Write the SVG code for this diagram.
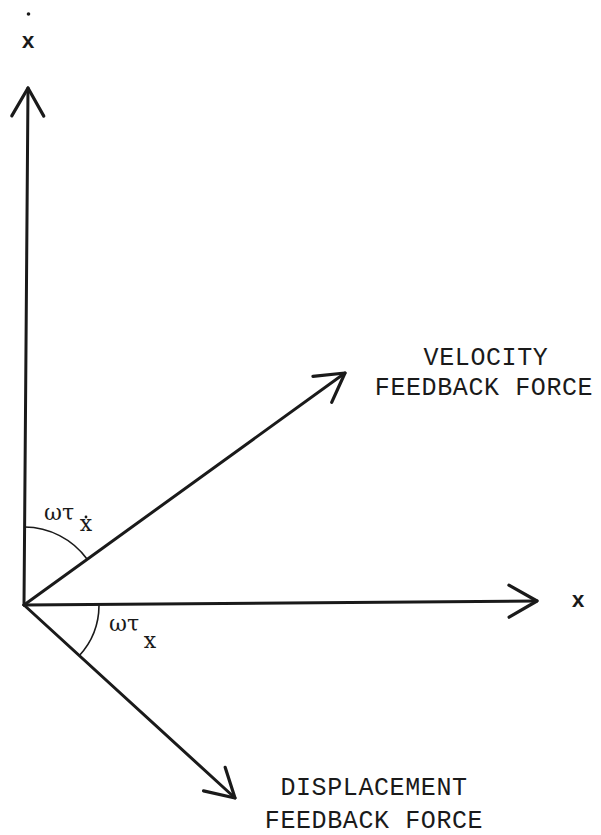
<svg xmlns="http://www.w3.org/2000/svg" width="601" height="835" viewBox="0 0 601 835">
<defs>
<marker id="open" markerUnits="userSpaceOnUse" markerWidth="40" markerHeight="40" viewBox="-32 -20 36 40" refX="0" refY="0" orient="auto" overflow="visible">
<path d="M-28,-16 L0,0 L-28,16" fill="none" stroke="#1a1a1a" stroke-width="3.2" stroke-linecap="round" stroke-linejoin="round"/>
</marker>
</defs>
<style>
.ax{fill:none;stroke:#1a1a1a;stroke-width:3;stroke-linecap:round}
.arc{fill:none;stroke:#1a1a1a;stroke-width:1.6}
.tt{font-family:"Liberation Mono","Courier New",monospace;font-size:25px;fill:#1a1a1a;letter-spacing:0.6px}
.gk{font-family:"DejaVu Serif","Liberation Serif",serif;font-size:22px;fill:#1a1a1a}
.sm{font-family:"Liberation Mono","Courier New",monospace;font-size:22px;fill:#1a1a1a;font-weight:bold}
</style>
<rect width="601" height="835" fill="#fff"/>
<g id="connectors">
<line class="ax" x1="24" y1="605" x2="28" y2="88" marker-end="url(#open)"/>
<line class="ax" x1="24" y1="605" x2="537" y2="601" marker-end="url(#open)"/>
<line class="ax" x1="24" y1="605" x2="345" y2="373" marker-end="url(#open)"/>
<line class="ax" x1="24" y1="605" x2="235" y2="798" marker-end="url(#open)"/>
<path class="arc" d="M24.6,527 A78,78 0 0 1 87,559"/>
<path class="arc" d="M99,605.5 A75,75 0 0 1 79,656"/>
</g>
<g id="xdot-label">
<circle cx="28.5" cy="14" r="1.8" fill="#1a1a1a"/>
<text class="sm" x="28" y="48" text-anchor="middle">x</text>
</g>
<g id="x-label">
<text class="sm" x="578" y="607" text-anchor="middle">x</text>
</g>
<g id="velocity-label">
<text class="tt" x="486" y="365" text-anchor="middle">VELOCITY</text>
<text class="tt" x="484" y="395" text-anchor="middle">FEEDBACK FORCE</text>
</g>
<g id="displacement-label">
<text class="tt" x="374" y="795" text-anchor="middle">DISPLACEMENT</text>
<text class="tt" x="374" y="828" text-anchor="middle">FEEDBACK FORCE</text>
</g>
<g id="angle-velocity">
<text class="gk" x="44" y="520">ωτ</text>
<circle cx="86" cy="517" r="1.4" fill="#1a1a1a"/>
<text class="gk" x="86" y="531" text-anchor="middle" font-size="17">x</text>
</g>
<g id="angle-displacement">
<text class="gk" x="109" y="631">ωτ</text>
<text class="gk" x="150" y="648" text-anchor="middle" font-size="18">x</text>
</g>
</svg>
